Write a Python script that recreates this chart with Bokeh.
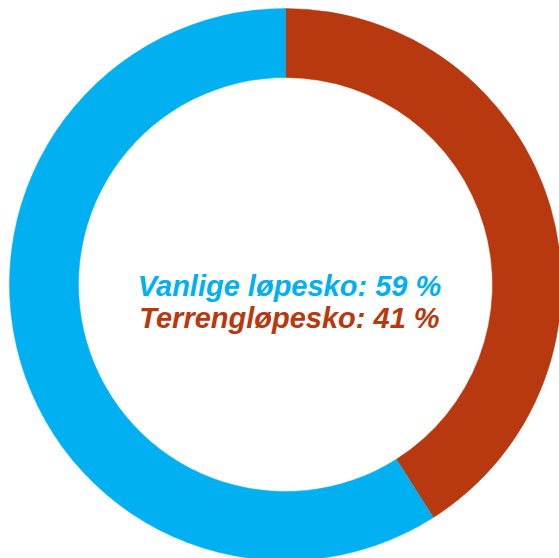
from bokeh.plotting import figure
from bokeh.models import Range1d, ColumnDataSource
from bokeh.core.properties import value
from bokeh.embed import file_html
from bokeh.resources import INLINE
import math

labels = ["Terrengløpesko", "Vanlige løpesko"]
values = [41, 59]
colors = ["#B8390F", "#00B0F0"]
text_order = [1, 0]

W, H = 559, 558
cx, cy = 285, 274
r_out, r_in = 276, 207

p = figure(width=W, height=H, x_range=Range1d(0, W), y_range=Range1d(0, H),
           x_axis_type=None, y_axis_type=None, toolbar_location=None,
           output_backend="svg", min_border=0)
p.grid.visible = False
p.outline_line_color = None
p.background_fill_color = "white"
p.border_fill_color = "white"

total = sum(values)
starts, ends = [], []
a = math.pi / 2
for v in values:
    starts.append(a)
    a -= v / total * 2 * math.pi
    ends.append(a)

src = ColumnDataSource(dict(start=starts, end=ends, color=colors))
p.annular_wedge(x=cx, y=cy, inner_radius=r_in, outer_radius=r_out,
                start_angle="start", end_angle="end", direction="clock",
                color="color", line_color="color", line_width=0.5, source=src)

texts = [f"{labels[i]}: {values[i]} %" for i in text_order]
tcolors = [colors[i] for i in text_order]
tsrc = ColumnDataSource(dict(x=[cx + 4, cx + 4], y=[H - 285.5, H - 317.5], t=texts, c=tcolors))
p.text(x="x", y="y", text="t", text_color="c", source=tsrc,
       text_font=value("Liberation Sans"), text_font_style="bold italic",
       text_font_size="29px", text_align="center", text_baseline="alphabetic")

open("out.html", "w").write(file_html(p, INLINE))
